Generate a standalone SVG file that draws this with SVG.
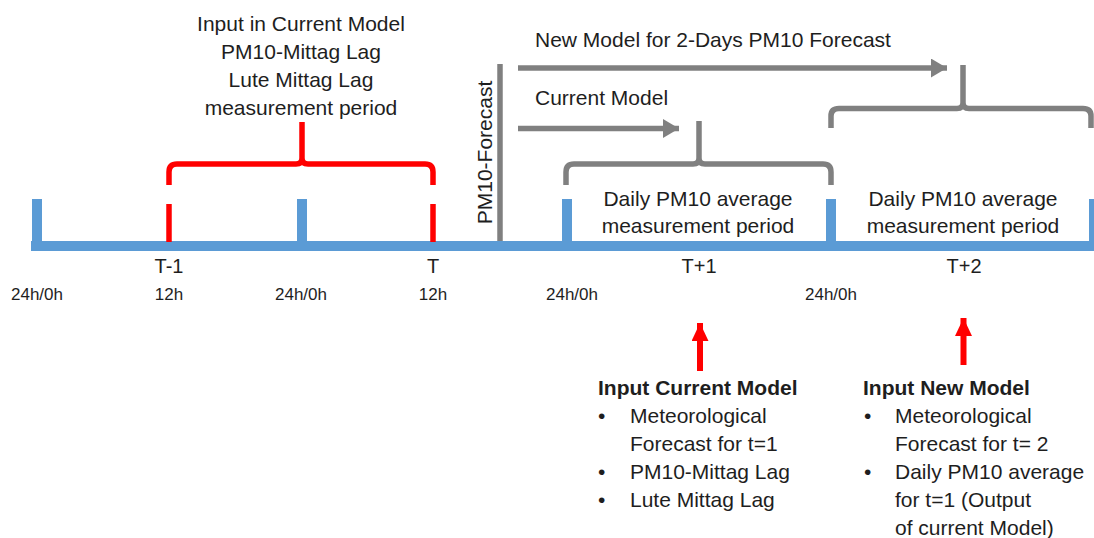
<svg xmlns="http://www.w3.org/2000/svg" width="1094" height="538" viewBox="0 0 1094 538">
<style>
text{font-family:"Liberation Sans",Arial,sans-serif;fill:#1e1e1e;}
.m{font-size:21px;}
.c{text-anchor:middle;}
.t{font-size:20px;text-anchor:middle;}
.h{font-size:17px;text-anchor:middle;}
.b{font-weight:bold;}
.blue{fill:#5b9bd5;}
.red{stroke:#ff0000;stroke-width:5.5;fill:none;}
.gray{stroke:#808080;stroke-width:5.5;fill:none;}
</style>
<defs>
<marker id="gh" markerUnits="userSpaceOnUse" markerWidth="18" markerHeight="20" refX="16" refY="9.5" orient="auto"><path d="M0,0 L16,9.5 L0,19 Z" fill="#808080"/></marker>
<marker id="rh" markerUnits="userSpaceOnUse" markerWidth="20" markerHeight="20" refX="18" refY="8.5" orient="auto"><path d="M0,0 L18,8.5 L0,17 Z" fill="#ff0000"/></marker>
</defs>
<rect width="1094" height="538" fill="#ffffff"/>

<g id="timeline">
<rect class="blue" x="31" y="241" width="1063" height="10"/>
<rect class="blue" x="32" y="199" width="10" height="44"/>
<rect class="blue" x="297" y="199" width="10" height="44"/>
<rect class="blue" x="562" y="199" width="10" height="44"/>
<rect class="blue" x="826" y="199" width="10" height="44"/>
<rect class="blue" x="1089" y="199" width="10" height="44"/>
<line class="red" x1="169" y1="204" x2="169" y2="242"/>
<line class="red" x1="433" y1="204" x2="433" y2="242"/>
</g>

<g id="time-labels">
<text class="t" x="169" y="273">T-1</text>
<text class="t" x="433" y="273">T</text>
<text class="t" x="699" y="273">T+1</text>
<text class="t" x="964" y="273">T+2</text>
<text class="h" x="37" y="300">24h/0h</text>
<text class="h" x="169" y="300">12h</text>
<text class="h" x="301" y="300">24h/0h</text>
<text class="h" x="433" y="300">12h</text>
<text class="h" x="572" y="300">24h/0h</text>
<text class="h" x="831" y="300">24h/0h</text>
</g>

<g id="lag-bracket">
<path class="red" d="M169,185 V172 Q169,164 177,164 H296 Q302,164 302,158 V122 M302,158 Q302,164 308,164 H425 Q433,164 433,172 V185"/>
<g class="m c">
<text x="301" y="31">Input in Current Model</text>
<text x="301" y="59">PM10-Mittag Lag</text>
<text x="301" y="87">Lute Mittag Lag</text>
<text x="301" y="115">measurement period</text>
</g>
</g>

<g id="forecast-line">
<line class="gray" x1="500" y1="64" x2="500" y2="241"/>
<text class="m c" transform="translate(491.5,152.5) rotate(-90)">PM10-Forecast</text>
</g>

<g id="day1-bracket">
<path class="gray" d="M566,185 V172 Q566,164 574,164 H693 Q699,164 699,158 V121 M699,158 Q699,164 705,164 H823 Q831,164 831,172 V185"/>
<g class="m c">
<text x="698" y="206">Daily PM10 average</text>
<text x="698" y="233">measurement period</text>
</g>
</g>

<g id="day2-bracket">
<path class="gray" d="M831,128 V116 Q831,108.5 839,108.5 H957 Q963,108.5 963,102.5 V65 M963,102.5 Q963,108.5 969,108.5 H1083 Q1091,108.5 1091,116 V128"/>
<g class="m c">
<text x="963" y="206">Daily PM10 average</text>
<text x="963" y="233">measurement period</text>
</g>
</g>

<g id="connectors">
<line class="gray" x1="518" y1="68" x2="947" y2="68" marker-end="url(#gh)"/>
<line class="gray" x1="518" y1="128.5" x2="679" y2="128.5" marker-end="url(#gh)"/>
<line class="red" x1="700" y1="371" x2="700" y2="323" marker-end="url(#rh)" style="stroke-width:6"/>
<line class="red" x1="963.5" y1="365" x2="963.5" y2="318" marker-end="url(#rh)" style="stroke-width:6"/>
</g>

<g id="model-labels" class="m">
<text x="535" y="47">New Model for 2-Days PM10 Forecast</text>
<text x="535" y="105">Current Model</text>
</g>

<g id="input-current" class="m">
<text class="b" x="598" y="395">Input Current Model</text>
<text x="598" y="423">•</text><text x="630" y="423">Meteorological</text>
<text x="630" y="451">Forecast for t=1</text>
<text x="598" y="479">•</text><text x="630" y="479">PM10-Mittag Lag</text>
<text x="598" y="507">•</text><text x="630" y="507">Lute Mittag Lag</text>
</g>

<g id="input-new" class="m">
<text class="b" x="863" y="395">Input New Model</text>
<text x="864" y="423">•</text><text x="895" y="423">Meteorological</text>
<text x="895" y="451">Forecast for t= 2</text>
<text x="864" y="479">•</text><text x="895" y="479">Daily PM10 average</text>
<text x="895" y="507">for t=1 (Output</text>
<text x="895" y="535">of current Model)</text>
</g>
</svg>
